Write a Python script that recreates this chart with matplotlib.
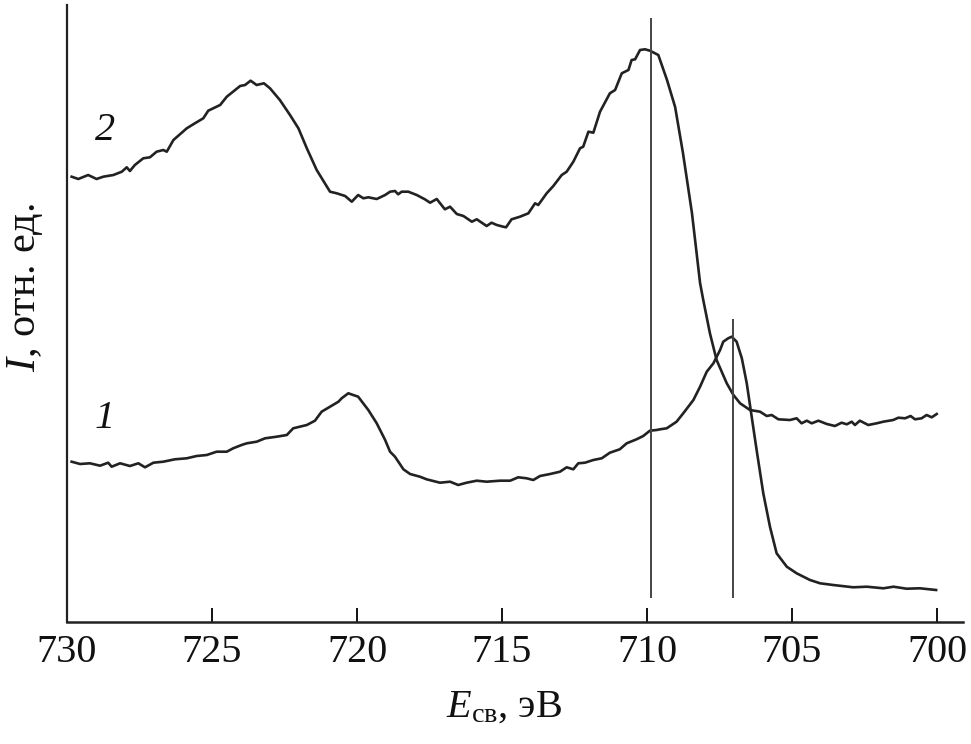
import matplotlib
matplotlib.use("Agg")
import matplotlib.pyplot as plt

plt.rcParams['font.family'] = ['Liberation Serif', 'DejaVu Serif']
plt.rcParams['mathtext.fontset'] = 'custom'
plt.rcParams['mathtext.rm'] = 'Liberation Serif'
plt.rcParams['mathtext.it'] = 'Liberation Serif:italic'

# Curve 2 (upper): binding energy (eV) and intensity (arb. units)
e2 = [729.84, 729.61, 729.27, 728.98, 728.75, 728.40, 728.11, 727.94, 727.83, 727.66,
      727.37, 727.14, 726.91, 726.68, 726.56, 726.33, 725.87, 725.59, 725.30, 725.13,
      724.72, 724.49, 724.03, 723.86, 723.67, 723.46, 723.21, 723.00, 722.66, 722.31,
      722.02, 721.73, 721.39, 720.93, 720.70, 720.41, 720.18, 719.96, 719.78, 719.61,
      719.32, 719.03, 718.86, 718.69, 718.58, 718.46, 718.23, 717.94, 717.66, 717.48,
      717.25, 716.97, 716.79, 716.56, 716.33, 716.04, 715.87, 715.53, 715.36, 715.18,
      714.96, 714.86, 714.67, 714.38, 714.09, 713.86, 713.75, 713.46, 713.23, 712.94,
      712.77, 712.54, 712.31, 712.20, 712.02, 711.85, 711.62, 711.28, 711.10, 710.87,
      710.64, 710.53, 710.41, 710.24, 710.07, 709.90, 709.61, 709.31, 709.03, 708.76,
      708.45, 708.17, 708.06, 707.83, 707.60, 707.25, 707.02, 706.79, 706.45, 706.10,
      705.87, 705.70, 705.47, 705.07, 704.84, 704.67, 704.49, 704.32, 704.09, 703.80,
      703.52, 703.29, 703.11, 702.94, 702.83, 702.66, 702.37, 702.08, 701.85, 701.51,
      701.33, 701.10, 700.91, 700.76, 700.53, 700.36, 700.18, 700.01]
i2 = [445.3, 443.0, 447.0, 443.0, 445.3, 447.0, 450.3, 454.7, 451.0, 457.0,
      463.7, 464.7, 470.3, 472.0, 470.3, 482.0, 493.7, 498.7, 503.7, 511.3,
      517.0, 525.3, 536.0, 537.0, 541.3, 537.0, 538.7, 533.7, 522.0, 507.0,
      493.7, 473.7, 452.0, 430.3, 428.7, 426.0, 420.3, 427.0, 423.7, 424.7,
      423.0, 427.0, 430.3, 431.0, 427.7, 430.3, 430.3, 427.0, 422.7, 419.3,
      423.0, 412.7, 415.3, 408.0, 406.0, 400.3, 402.7, 396.0, 399.3, 397.0,
      395.3, 394.7, 402.7, 405.3, 408.7, 418.7, 417.0, 428.7, 436.0, 447.0,
      450.3, 460.3, 473.7, 475.3, 490.3, 489.3, 510.3, 528.7, 532.0, 548.7,
      552.0, 562.0, 562.7, 572.0, 572.7, 571.3, 567.0, 542.0, 515.0, 469.0,
      409.0, 339.0, 322.0, 288.7, 262.0, 238.7, 227.0, 218.7, 212.0, 210.3,
      206.0, 207.0, 202.7, 202.0, 203.7, 198.7, 201.3, 198.7, 201.3, 198.0,
      196.0, 199.3, 197.7, 200.3, 197.0, 201.3, 197.0, 198.7, 200.3, 202.0,
      204.3, 203.7, 206.0, 202.7, 203.7, 207.0, 204.7, 208.0]

# Curve 1 (lower)
e1 = [729.84, 729.55, 729.21, 728.86, 728.58, 728.46, 728.17, 727.83, 727.54, 727.31,
      727.02, 726.68, 726.28, 725.87, 725.53, 725.18, 724.84, 724.49, 724.27, 723.98,
      723.80, 723.46, 723.17, 722.77, 722.42, 722.20, 721.73, 721.45, 721.22, 720.93,
      720.64, 720.53, 720.30, 720.13, 719.96, 719.61, 719.32, 719.03, 718.86, 718.69,
      718.40, 718.17, 717.83, 717.60, 717.14, 716.79, 716.51, 716.22, 715.87, 715.53,
      715.07, 714.72, 714.44, 714.15, 713.92, 713.69, 713.34, 713.00, 712.77, 712.54,
      712.37, 712.14, 711.85, 711.56, 711.28, 710.94, 710.70, 710.36, 710.13, 709.90,
      709.67, 709.55, 709.32, 708.98, 708.75, 708.40, 708.17, 707.94, 707.71, 707.48,
      707.37, 707.20, 707.08, 706.91, 706.73, 706.56, 706.39, 706.22, 705.99, 705.76,
      705.53, 705.18, 704.84, 704.38, 704.03, 703.58, 702.89, 702.42, 701.85, 701.50,
      701.05, 700.59, 700.03]
i1 = [160.3, 158.0, 158.7, 156.3, 159.3, 155.3, 158.7, 156.0, 158.7, 154.7,
      159.3, 160.3, 162.7, 163.7, 166.0, 167.0, 170.3, 170.3, 173.7, 177.0,
      178.7, 180.3, 183.7, 185.3, 187.0, 193.7, 197.0, 201.3, 210.3, 215.3,
      220.3, 223.7, 228.7, 227.0, 225.3, 212.0, 198.7, 182.0, 170.3, 165.3,
      152.7, 148.0, 145.3, 142.7, 139.3, 140.3, 137.0, 139.3, 141.3, 140.3,
      141.3, 141.3, 144.7, 143.7, 142.0, 146.0, 148.0, 150.3, 154.7, 152.7,
      158.7, 159.3, 162.0, 163.7, 169.3, 172.7, 178.7, 182.7, 186.0, 191.3,
      192.0, 192.7, 193.7, 200.3, 208.7, 222.0, 235.3, 250.3, 258.7, 272.0,
      280.3, 283.7, 285.3, 280.3, 263.7, 238.7, 205.3, 172.0, 128.7, 95.3,
      68.7, 55.3, 48.7, 42.0, 38.7, 37.0, 34.7, 35.3, 33.7, 35.3,
      33.3, 33.7, 32.0]

# Vertical marker lines: energy, bottom, top
vlines_e = [709.85, 707.05]
vlines_lo = [24, 24]
vlines_hi = [604, 303]

xticks = [730, 725, 720, 715, 710, 705, 700]
curve_labels = ['2', '1']
curve_label_pos = [(728.7, 492), (728.7, 203)]

fig = plt.figure(figsize=(9.71, 7.44), dpi=100)
ax = fig.add_axes([67/971, 1-622/744, (963-67)/971, (622-5)/744])

col = '#222222'
ax.plot(e2, i2, color=col, lw=1.9, solid_joinstyle='round')
ax.plot(e1, i1, color=col, lw=1.9, solid_joinstyle='round')
for xe, lo, hi in zip(vlines_e, vlines_lo, vlines_hi):
    ax.vlines(xe, lo, hi, color='#444444', lw=1.4)

for lab, (xx, yy) in zip(curve_labels, curve_label_pos):
    ax.text(xx, yy, lab, fontsize=29, fontstyle='italic', ha='center', va='center', color='#111111')

ax.set_xlim(730, 730 - (963-67)/29)
ax.set_ylim(0, 617)
ax.set_xticks(xticks)
ax.set_xticklabels([str(t) for t in xticks])
ax.set_yticks([])
ax.tick_params(axis='x', direction='in', length=10, width=1.4, labelsize=29, pad=9, colors='#111111')
for s in ['top', 'right']:
    ax.spines[s].set_visible(False)
ax.spines['left'].set_linewidth(1.6)
ax.spines['bottom'].set_linewidth(1.8)
ax.spines['left'].set_color('#222222')
ax.spines['bottom'].set_color('#222222')

fig.text(504/971, 1-707/744, r'$E_{\mathrm{св}}$, эВ', fontsize=29, ha='center', va='center', color='#111111')
fig.text(25/971, 1-287/744, r'$I$, отн. ед.', fontsize=30.5, ha='center', va='center', rotation=90, color='#111111')

fig.savefig('out.png', dpi=100)
